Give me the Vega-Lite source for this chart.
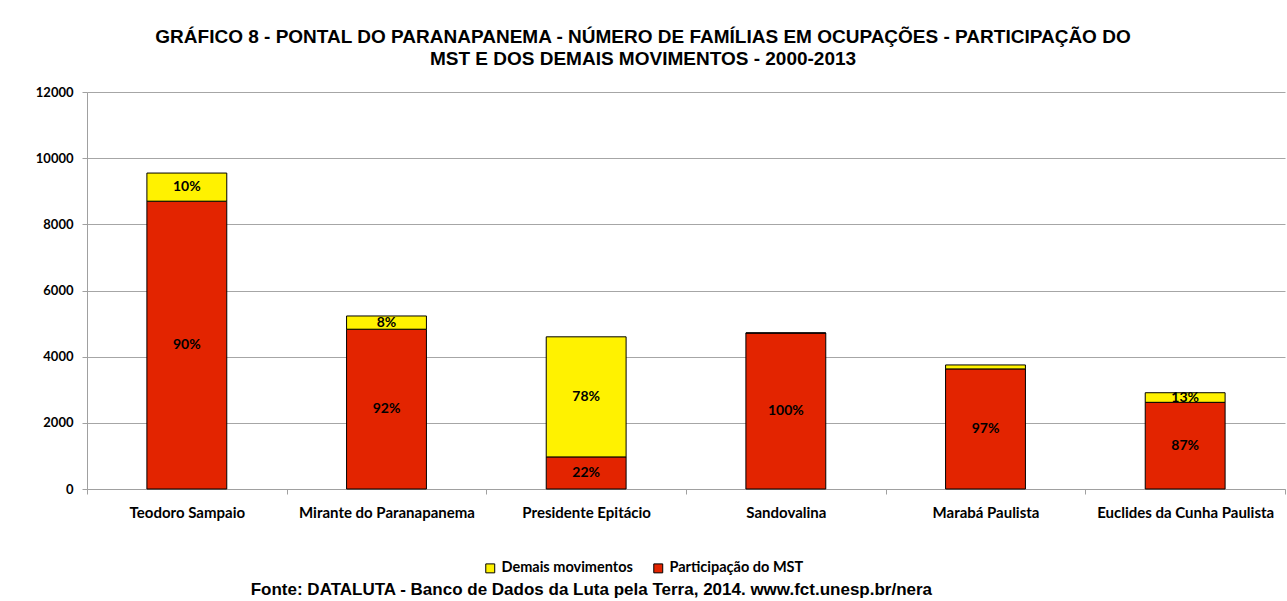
{
  "$schema": "https://vega.github.io/schema/vega-lite/v6.json",
  "padding": {"left": 35, "right": 0, "top": 28, "bottom": 0},
  "background": "white",
  "title": {
    "text": "Fonte: DATALUTA - Banco de Dados da Luta pela Terra, 2014. www.fct.unesp.br/nera",
    "orient": "bottom",
    "anchor": "middle",
    "frame": "bounds",
    "dx": -69,
    "offset": 7,
    "font": "Liberation Sans",
    "fontSize": 17,
    "fontWeight": "bold",
    "color": "black"
  },
  "vconcat": [
    {
      "width": 1198,
      "height": 397,
      "title": {
        "text": ["GRÁFICO 8 - PONTAL DO PARANAPANEMA - NÚMERO DE FAMÍLIAS EM OCUPAÇÕES - PARTICIPAÇÃO DO", "MST E DOS DEMAIS MOVIMENTOS - 2000-2013"],
        "font": "Liberation Sans",
        "fontSize": 19,
        "fontWeight": "bold",
        "lineHeight": 22,
        "anchor": "middle",
        "dx": -43,
        "offset": 17,
        "color": "black"
      },
      "data": {
        "values": [
          {"municipio": "Teodoro Sampaio", "serie": "Participação do MST", "ord": 1, "familias": 8700, "rotulo": "90%"},
          {"municipio": "Teodoro Sampaio", "serie": "Demais movimentos", "ord": 2, "familias": 850, "rotulo": "10%"},
          {"municipio": "Mirante do Paranapanema", "serie": "Participação do MST", "ord": 1, "familias": 4830, "rotulo": "92%"},
          {"municipio": "Mirante do Paranapanema", "serie": "Demais movimentos", "ord": 2, "familias": 400, "rotulo": "8%"},
          {"municipio": "Presidente Epitácio", "serie": "Participação do MST", "ord": 1, "familias": 970, "rotulo": "22%"},
          {"municipio": "Presidente Epitácio", "serie": "Demais movimentos", "ord": 2, "familias": 3630, "rotulo": "78%"},
          {"municipio": "Sandovalina", "serie": "Participação do MST", "ord": 1, "familias": 4715, "rotulo": "100%"},
          {"municipio": "Sandovalina", "serie": "Demais movimentos", "ord": 2, "familias": 0, "rotulo": ""},
          {"municipio": "Marabá Paulista", "serie": "Participação do MST", "ord": 1, "familias": 3630, "rotulo": "97%"},
          {"municipio": "Marabá Paulista", "serie": "Demais movimentos", "ord": 2, "familias": 120, "rotulo": ""},
          {"municipio": "Euclides da Cunha Paulista", "serie": "Participação do MST", "ord": 1, "familias": 2620, "rotulo": "87%"},
          {"municipio": "Euclides da Cunha Paulista", "serie": "Demais movimentos", "ord": 2, "familias": 290, "rotulo": "13%"}
        ]
      },
      "encoding": {
        "x": {
          "field": "municipio",
          "type": "nominal",
          "sort": null,
          "scale": {"paddingInner": 0, "paddingOuter": 0},
          "axis": {
            "title": null,
            "labelAngle": 0,
            "tickBand": "extent",
            "tickSize": 5,
            "tickColor": "#A0A0A0",
            "domainColor": "#A0A0A0",
            "labelFont": "Lato",
            "labelFontWeight": "bold",
            "labelFontSize": 15,
            "labelColor": "black",
            "labelPadding": 11
          }
        }
      },
      "layer": [
        {
          "mark": {"type": "bar", "width": {"band": 0.4}, "stroke": "black", "strokeWidth": 1},
          "encoding": {
            "y": {
              "field": "familias",
              "type": "quantitative",
              "stack": "zero",
              "scale": {"domain": [0, 12000], "nice": false},
              "axis": {
                "title": null,
                "values": [0, 2000, 4000, 6000, 8000, 10000, 12000],
                "format": "d",
                "grid": true,
                "gridColor": "#A6A6A6",
                "domainColor": "#A0A0A0",
                "tickColor": "#A0A0A0",
                "tickSize": 5,
                "labelPadding": 9,
                "labelFont": "Lato",
                "labelFontWeight": "bold",
                "labelFontSize": 13,
                "labelColor": "black"
              }
            },
            "color": {
              "field": "serie",
              "type": "nominal",
              "scale": {"domain": ["Demais movimentos", "Participação do MST"], "range": ["#FFF200", "#E32400"]},
              "legend": {
                "orient": "bottom",
                "direction": "horizontal",
                "title": " ",
                "titleOrient": "right",
                "titlePadding": 86,
                "symbolType": "square",
                "symbolSize": 80,
                "symbolStrokeColor": "black",
                "symbolStrokeWidth": 1,
                "labelFont": "Lato",
                "labelFontWeight": "bold",
                "labelFontSize": 14.5,
                "labelColor": "black",
                "labelLimit": 0,
                "columnPadding": 18,
                "offset": 41
              }
            },
            "order": {"field": "ord", "type": "quantitative"}
          }
        },
        {
          "mark": {"type": "text", "font": "Lato", "fontWeight": "bold", "fontSize": 14, "color": "black"},
          "encoding": {
            "y": {"field": "familias", "type": "quantitative", "stack": "zero", "bandPosition": 0.5},
            "detail": {"field": "serie", "type": "nominal"},
            "order": {"field": "ord", "type": "quantitative"},
            "text": {"field": "rotulo", "type": "nominal"}
          }
        }
      ]
    }
  ],
  "config": {
    "view": {"stroke": null},
    "legend": {"layout": {"bottom": {"anchor": "middle"}}}
  }
}
